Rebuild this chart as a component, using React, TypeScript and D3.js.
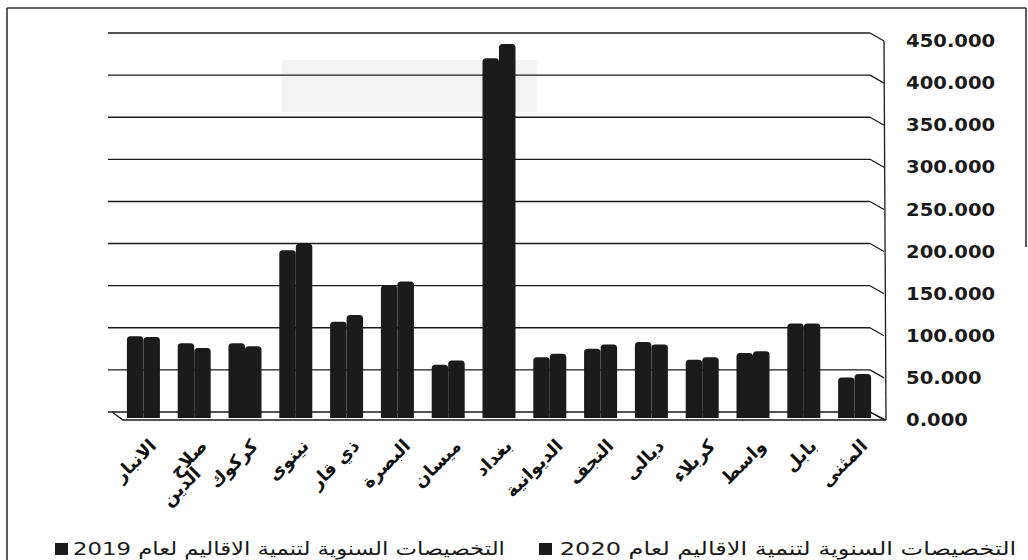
import React from "react";
import * as d3 from "d3";

const categories = ["الانبار", "صلاح الدين", "كركوك", "نينوى", "ذي قار", "البصرة", "ميسان", "بغداد", "الديوانية", "النجف", "ديالى", "كربلاء", "واسط", "بابل", "المثنى"];
const values2019 = [96, 87.5, 87.5, 198, 113, 156, 62, 426, 71, 81, 89, 68, 76, 111, 47];
const values2020 = [95, 82, 84, 206, 121, 161, 67, 443, 75, 86, 86, 71, 78, 111, 51];
const seriesNames = ["2019", "2020"];
const legendLabels = ["التخصيصات السنوية لتنمية الاقاليم لعام 2019", "التخصيصات السنوية لتنمية الاقاليم لعام 2020"];
const yTicks = [0, 50, 100, 150, 200, 250, 300, 350, 400, 450];

const W = 1028, H = 560;
const DX = 14, DY = 8;

export default function App() {
  const x = d3.scaleBand<string>().domain(categories).range([118, 880]);
  const sub = d3.scaleBand<string>().domain(seriesNames).range([-16.5, 16.5]);
  const yBack = d3.scaleLinear().domain([0, 450]).range([412, 33]);
  const yFront = d3.scaleLinear().domain([0, 450]).range([420, 41]);
  const yBar = d3.scaleLinear().domain([0, 450]).range([417, 38]);
  const fmt = d3.format(".3f");
  const backL = 108, backR = 870;
  const series = [values2019, values2020];

  const barPath = (x0: number, w: number, top: number, bottom: number) => {
    const r = 3.5;
    return `M${x0},${bottom} L${x0},${top + r} Q${x0},${top} ${x0 + r},${top} L${x0 + w - r},${top} Q${x0 + w},${top} ${x0 + w},${top + r} L${x0 + w},${bottom} Z`;
  };

  const legendPos = [
    { mx: 55, cx: 289, sx: 1.23 },
    { mx: 539, cx: 788, sx: 1.3 },
  ];

  return (
    <svg width={W} height={H} style={{ position: "absolute", left: 0, top: 0, background: "#fff" }}>
      <rect x={0} y={0} width={W} height={H} fill="#fff" />
      {/* frame */}
      <line x1={7} y1={8} x2={7} y2={560} stroke="#333" strokeWidth={1.6} />
      <line x1={7} y1={8} x2={1026} y2={8} stroke="#333" strokeWidth={1.6} />
      <line x1={1026} y1={8} x2={1026} y2={247} stroke="#333" strokeWidth={1.6} />
      {/* faint patch */}
      <rect x={282} y={60} width={255} height={52} fill="#f3f3f3" />
      {/* gridlines on back wall + side wall */}
      {yTicks.map((t) => (
        <g key={t}>
          <line x1={backL} y1={yBack(t)} x2={backR} y2={yBack(t)} stroke="#1a1a1a" strokeWidth={1.4} />
          <line x1={backR} y1={yBack(t)} x2={backR + DX} y2={yBack(t) + DY} stroke="#1a1a1a" strokeWidth={1.2} />
        </g>
      ))}
      <line x1={backR + DX} y1={yBack(450) + DY} x2={backR + DX + 2} y2={yFront(0)} stroke="#1a1a1a" strokeWidth={1.3} />
      {/* floor */}
      <path d={`M${backL + 4},${yBack(0)} L${backL + 4 + 11},${yFront(0)} L${backR + DX + 2},${yFront(0)} L${backR},${yBack(0)}`} fill="none" stroke="#1a1a1a" strokeWidth={1.3} />
      {/* bars */}
      {categories.map((c, i) => (
        <g key={c}>
          {series.map((vals, s) => {
            const cx = (x(c) as number) + x.bandwidth() / 2;
            const x0 = cx + (sub(seriesNames[s]) as number);
            return <path key={s} d={barPath(x0, sub.bandwidth(), yBar(vals[i]), 418)} fill="#1b1b1b" />;
          })}
        </g>
      ))}
      {/* y axis labels */}
      {yTicks.map((t) => (
        <text key={t} transform={`translate(906,${yFront(t)}) scale(1.12,1)`} dominantBaseline="central" fontFamily="DejaVu Sans" fontWeight="bold" fontSize={17.5} fill="#1a1a1a">
          {fmt(t)}
        </text>
      ))}
      {/* category labels */}
      {categories.map((c) => {
        const cx = (x(c) as number) + x.bandwidth() / 2;
        const px = cx + 14, py = 447;
        const wrap = c.includes(" ") && c.length > 6;
        const parts = wrap ? c.split(" ") : [c];
        return (
          <g key={c} transform={`translate(${px},${py}) rotate(-45)`}>
            {parts.map((p, k) => (
              <text key={k} x={k * -24} y={k * 15} textAnchor="end" fontFamily="DejaVu Sans" fontWeight="bold" fontSize={18} fill="#111">
                {p}
              </text>
            ))}
          </g>
        );
      })}
      {/* legend */}
      {legendLabels.map((l, i) => {
        const { mx, cx, sx } = legendPos[i];
        return (
          <g key={l}>
            <rect x={mx} y={543} width={13} height={12} fill="#1b1b1b" />
            <text transform={`translate(${cx},555) scale(${sx},1)`} direction="rtl" textAnchor="middle" fontFamily="DejaVu Sans" fontSize={18.5} fill="#1a1a1a">
              {l}
            </text>
          </g>
        );
      })}
    </svg>
  );
}
